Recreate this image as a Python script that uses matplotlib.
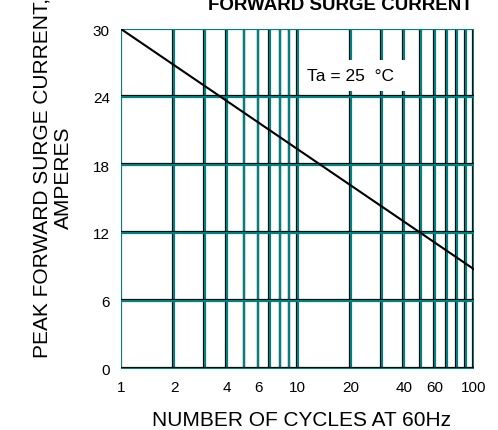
import numpy as np
import matplotlib.pyplot as plt
import matplotlib.patheffects as pe

plt.rcParams['font.family'] = ['Liberation Sans', 'DejaVu Sans']

# curve endpoints (log x, straight line)
cycles = [1, 100]
surge_amps = [30, 8.8]

x_grid = [1, 2, 3, 4, 5, 6, 7, 8, 9, 10, 20, 30, 40, 50, 60, 70, 80, 90, 100]
x_labels = [1, 2, 4, 6, 10, 20, 40, 60, 100]
y_ticks = [0, 6, 12, 18, 24, 30]

teal = '#008080'
edge = [pe.Stroke(offset=(-0.6, 0.6), linewidth=1.6, foreground='black'), pe.Normal()]

fig = plt.figure(figsize=(4.98, 4.31), dpi=100)
ax = fig.add_axes([121 / 498, 61 / 431, 353 / 498, 340 / 431])
ax.set_xscale('log')
ax.set_xlim(1, 100)
ax.set_ylim(0, 30)

# teal grid with a dark shadow edge
for xv in x_grid:
    ax.axvline(xv, color=teal, lw=1.6, zorder=1, path_effects=edge)
for yv in y_ticks:
    ax.axhline(yv, color=teal, lw=1.6, zorder=1, path_effects=edge)

ax.plot(cycles, surge_amps, color='black', lw=1.5, zorder=3)

for s in ax.spines.values():
    s.set_visible(False)

ax.set_xticks(x_labels)
ax.set_xticklabels([str(v) for v in x_labels], fontsize=11)
ax.xaxis.set_minor_locator(plt.NullLocator())
ax.set_yticks(y_ticks)
ax.set_yticklabels([str(v) for v in y_ticks], fontsize=11)
ax.tick_params(length=0, pad=8)

ax.set_xlabel('NUMBER OF CYCLES AT 60Hz', fontsize=15)
ax.xaxis.set_label_coords(0.51, -0.12)
ax.set_ylabel('PEAK FORWARD SURGE CURRENT,\nAMPERES', fontsize=15)
ax.yaxis.set_label_coords(-0.135, 0.565)

ax.text(11.3, 25.9, 'Ta = 25  \u00b0C  ', fontsize=12.5, ha='left', va='center', zorder=4,
        bbox=dict(facecolor='white', edgecolor='none', pad=6))

fig.text(340 / 498, 1 - 5 / 431, 'FORWARD SURGE CURRENT', fontsize=13.5, fontweight='bold',
         ha='center', va='center')

fig.savefig('out.png', dpi=100)
